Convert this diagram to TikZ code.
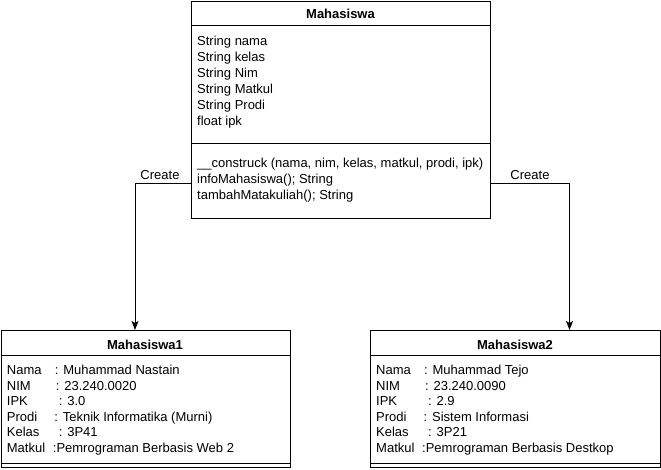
\documentclass[tikz,border=0pt]{standalone}
\usepackage{fontspec}
\setmainfont{Liberation Sans}
\usetikzlibrary{arrows.meta}
\begin{document}
\begin{tikzpicture}[x=1pt,y=-1pt,
  box/.style={draw, line width=1pt, anchor=north west, inner sep=0pt},
  txt/.style={anchor=base west, inner sep=0pt, font=\fontsize{13}{15}\selectfont},
  ttl/.style={anchor=base, inner sep=0pt, font=\fontsize{13}{15}\selectfont\bfseries},
  sep/.style={line width=1pt},
  conn/.style={line width=1pt, -{Stealth[length=9pt,width=7pt,inset=2pt]}},
  lbl/.style={inner sep=1pt, font=\fontsize{13}{15}\selectfont}]
\useasboundingbox (0,0) rectangle (661,470);

% main class
\node[box, minimum width=299pt, minimum height=217pt] (main) at (191,1) {};
\draw[sep] (main.west |- 0,26) -- (main.east |- 0,26);
\draw[sep] (main.west |- 0,144) -- (main.east |- 0,144);
\node[ttl] (t0) at (340.5,18.5) {Mahasiswa};
\node[txt] (a1) at (197,45.5) {String nama};
\node[txt] (a2) at (197,61.5) {String kelas};
\node[txt] (a3) at (197,77.5) {String Nim};
\node[txt] (a4) at (197,93.5) {String Matkul};
\node[txt] (a5) at (197,109.5) {String Prodi};
\node[txt] (a6) at (197,125.5) {float ipk};
\node[txt] (f1) at (197,168) {\_\_construck (nama, nim, kelas, matkul, prodi, ipk)};
\node[txt] (f2) at (197,184) {infoMahasiswa(); String};
\node[txt] (f3) at (197,200) {tambahMatakuliah(); String};

% Mahasiswa1
\node[box, minimum width=289.5pt, minimum height=137pt] (m1) at (0.5,330) {};
\draw[sep] (m1.west |- 0,355) -- (m1.east |- 0,355);
\draw[sep] (m1.west |- 0,463) -- (m1.east |- 0,463);
\node[ttl] (t1) at (145,349.5) {Mahasiswa1};
\node[txt] (p1) at (6.7,374.5) {Nama};
\node[txt] (p2) at (6.7,390) {NIM};
\node[txt] (p3) at (6.7,405.5) {IPK};
\node[txt] (p4) at (6.7,421) {Prodi};
\node[txt] (p5) at (6.7,436.5) {Kelas};
\node[txt] (p6) at (6.7,452) {Matkul};
\node[txt] (v1) at (54.7,374.5) {: Muhammad Nastain};
\node[txt] (v2) at (55.7,390) {: 23.240.0020};
\node[txt] (v3) at (58.7,405.5) {: 3.0};
\node[txt] (v4) at (54.2,421) {: Teknik Informatika (Murni)};
\node[txt] (v5) at (58.7,436.5) {: 3P41};
\node[txt] (v6) at (52.7,452) {:Pemrograman Berbasis Web 2};

% Mahasiswa2
\node[box, minimum width=290pt, minimum height=137pt] (m2) at (370,330) {};
\draw[sep] (m2.west |- 0,355) -- (m2.east |- 0,355);
\draw[sep] (m2.west |- 0,463) -- (m2.east |- 0,463);
\node[ttl] (t2) at (515,349.5) {Mahasiswa2};
\node[txt] (q1) at (376,374.5) {Nama};
\node[txt] (q2) at (376,390) {NIM};
\node[txt] (q3) at (376,405.5) {IPK};
\node[txt] (q4) at (376,421) {Prodi};
\node[txt] (q5) at (376,436.5) {Kelas};
\node[txt] (q6) at (376,452) {Matkul};
\node[txt] (w1) at (424,374.5) {: Muhammad Tejo};
\node[txt] (w2) at (425,390) {: 23.240.0090};
\node[txt] (w3) at (428,405.5) {: 2.9};
\node[txt] (w4) at (423.5,421) {: Sistem Informasi};
\node[txt] (w5) at (428,436.5) {: 3P21};
\node[txt] (w6) at (422,452) {:Pemrograman Berbasis Destkop};

% connectors
\coordinate (c1) at (135,184);
\coordinate (c2) at (569.5,184);
\draw[conn] (main.west |- c1) -| (m1.north -| c1);
\draw[conn] (main.east |- c2) -| (m2.north -| c2);
\node[lbl] (l1) at (160,175.5) {Create};
\node[lbl] (l2) at (530,175.5) {Create};
\end{tikzpicture}
\end{document}
